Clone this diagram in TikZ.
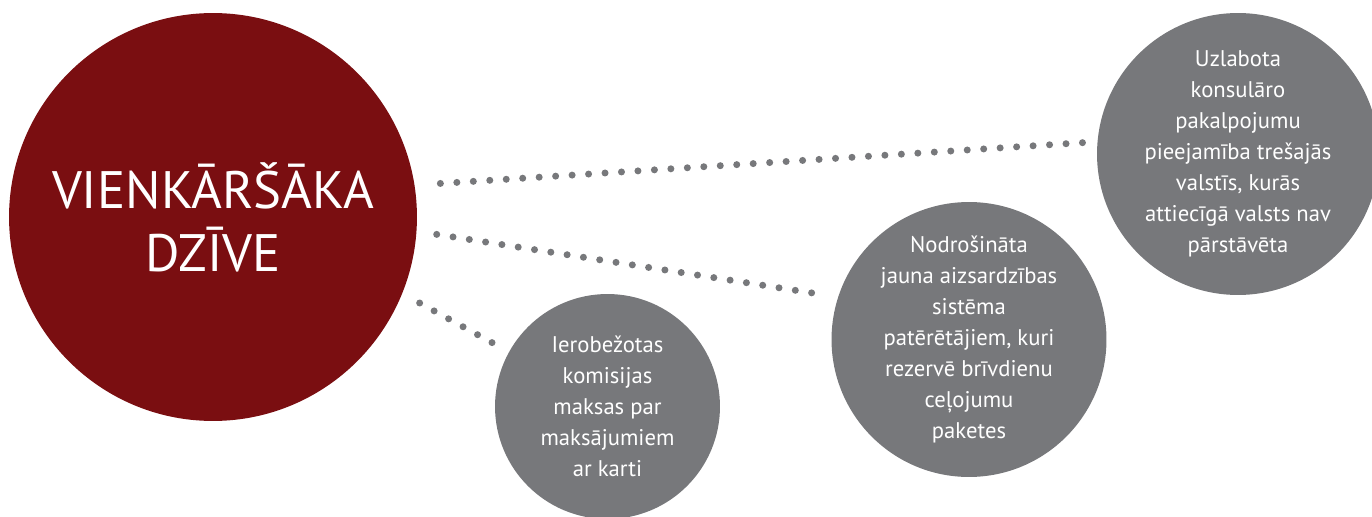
\documentclass[tikz,border=0pt]{standalone}
\usepackage{fontspec}
\setmainfont{PT Sans}
\definecolor{vdred}{HTML}{7A0E11}
\definecolor{vdgray}{HTML}{77787B}
\tikzset{
  mainidea/.style = {
    circle, fill=vdred, text=white, inner sep=0pt, outer sep=0pt,
    minimum size=8.16cm, align=center,
    font=\fontsize{30}{35.7}\selectfont
  },
  benefit/.style = {
    circle, fill=vdgray, text=white, inner sep=0pt, outer sep=0pt,
    align=center, font=\fontsize{12.9}{17.6}\selectfont
  },
  dotlink/.style = {
    vdgray, line width=0.14cm, line cap=round,
    dash pattern=on 0pt off 0.33cm
  }
}

\begin{document}
\begin{tikzpicture}[x=0.02cm,y=-0.02cm]
  \clip (0,0) rectangle (1372,517);
  % circles
  \node[mainidea] (simple) at (213,217) {VIENKĀRŠĀKA\\DZĪVE};
  \node[benefit,minimum size=5.64cm] (consular) at (1238,154)
    {Uzlabota\\konsulāro\\pakalpojumu\\pieejamība trešajās\\valstīs, kurās\\attiecīgā valsts nav\\pārstāvēta};
  \node[benefit,minimum size=5.5cm] (travel) at (969,339.5)
    {Nodrošināta\\jauna aizsardzības\\sistēma\\patērētājiem, kuri\\rezervē brīvdienu\\ceļojumu\\paketes};
  \node[benefit,minimum size=4.5cm] (fees) at (607.5,406.5)
    {Ierobežotas\\komisijas\\maksas par\\maksājumiem\\ar karti};
  % links
  \draw[dotlink,shorten <=0.52cm,shorten >=0.08cm]  (simple.9.3)  -- (consular.175.7);
  \draw[dotlink,shorten <=0.41cm,shorten >=0.436cm] (simple.-4.1) -- (travel.162.6);
  \draw[dotlink,shorten <=0.40cm,shorten >=0.134cm] (simple.-22.3) -- (fees.151.2);
\end{tikzpicture}
\end{document}
